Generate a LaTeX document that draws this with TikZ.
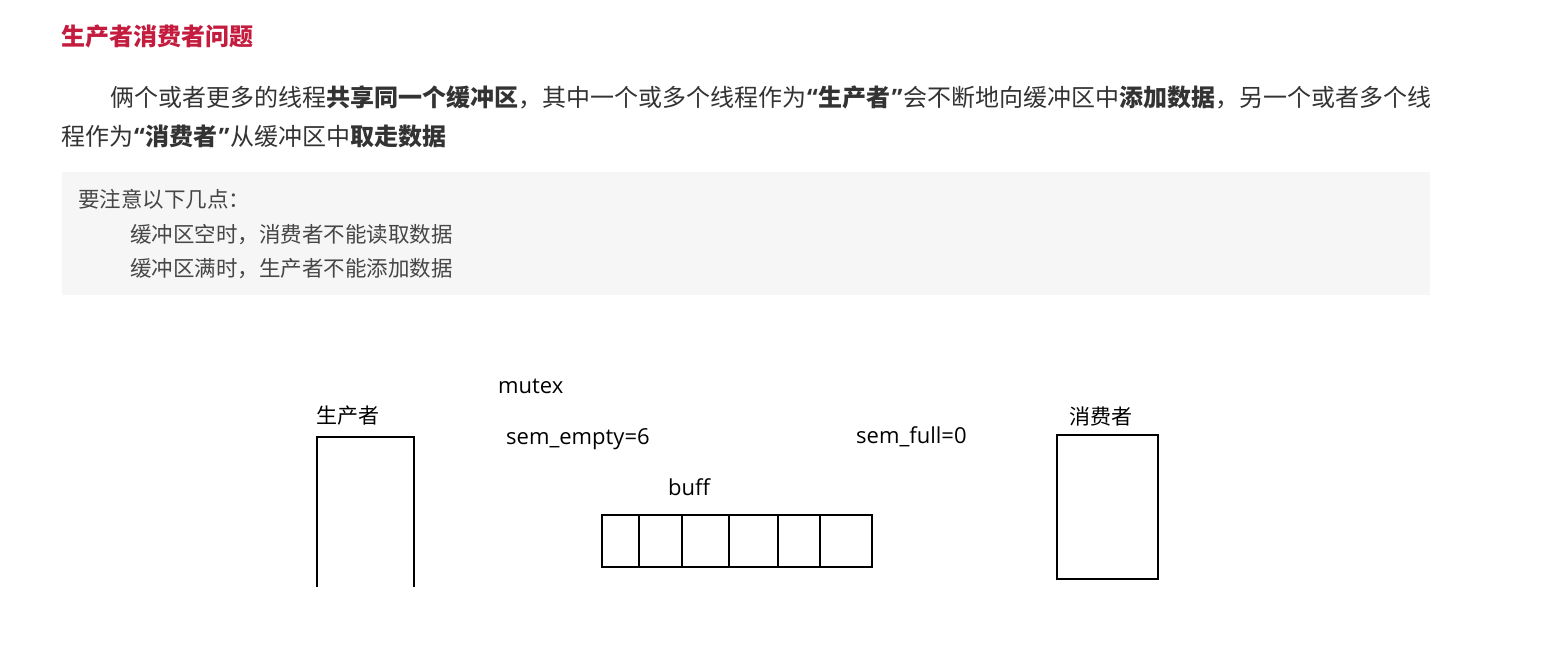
\documentclass[tikz,border=0pt]{standalone}
\usepackage{fontspec}
\setmainfont{Noto Sans CJK SC}
\newfontfamily\latinfont{Open Sans}
\newcommand{\myopenq}{{\latinfont\kern1pt“\kern1pt}}
\newcommand{\mycloseq}{{\latinfont\kern1pt”\kern1pt}}
\definecolor{titlered}{RGB}{196,28,62}
\definecolor{bodytext}{RGB}{51,51,51}
\definecolor{notebg}{RGB}{246,246,246}
\definecolor{notetext}{RGB}{70,70,70}
\begin{document}
\begin{tikzpicture}[x=1pt,y=-1pt,
  txt/.style={inner sep=0pt,anchor=base west},
  para/.style={txt,font=\fontsize{24}{28}\selectfont,text=bodytext},
  notetxt/.style={txt,font=\fontsize{21.5}{24}\selectfont,text=notetext},
  lbl/.style={txt,font=\fontsize{21}{24}\selectfont,text=black},
  code/.style={txt,font=\latinfont\fontsize{22}{26}\selectfont,text=black},
  thick line/.style={line width=2.6pt,black},
  cellbox/.style={draw=black,line width=2.6pt,minimum height=52pt,inner sep=0pt,outer sep=0pt,anchor=north west}]
\useasboundingbox (0,0) rectangle (1547,659);
\fill[white] (0,0) rectangle (1547,659);
% title
\node[txt,font=\fontsize{24}{28}\bfseries\selectfont,text=titlered] (title) at (61,45) {生产者消费者问题};
% paragraph
\node[para] (p1) at (110,106) {俩个或者更多的线程\textbf{共享同一个缓冲区}，其中一个或多个线程作为\textbf{\myopenq 生产者\mycloseq}会不断地向缓冲区中\textbf{添加数据}，另一个或者多个线};
\node[para] (p2) at (61,145) {程作为\textbf{\myopenq 消费者\mycloseq}从缓冲区中\textbf{取走数据}};
% note box
\fill[notebg] (62,172) rectangle (1430,295);
\node[notetxt] (n1) at (78,207) {要注意以下几点：};
\node[notetxt] (n2) at (130,242) {缓冲区空时，消费者不能读取数据};
\node[notetxt] (n3) at (130,276) {缓冲区满时，生产者不能添加数据};
% producer
\coordinate (pbl) at (317,587);
\coordinate (ptl) at (317,437);
\coordinate (ptr) at (414,437);
\coordinate (pbr) at (414,587);
\draw[thick line,line join=miter] (pbl) -- (ptl) -- (ptr) -- (pbr);
\node[lbl] (plabel) at (316,423) {生产者};
% labels
\node[code] (mutex) at (498,393) {mutex};
\node[code] (semempty) at (506,444) {sem\_empty=6};
\node[code] (semfull) at (856,443) {sem\_full=0};
\node[code] (buff) at (668,495) {buff};
% buffer cells
\node[cellbox,minimum width=37pt] (c1) at (602,515) {};
\node[cellbox,minimum width=43pt] (c2) at (c1.north east) {};
\node[cellbox,minimum width=47pt] (c3) at (c2.north east) {};
\node[cellbox,minimum width=49pt] (c4) at (c3.north east) {};
\node[cellbox,minimum width=42pt] (c5) at (c4.north east) {};
\node[cellbox,minimum width=52pt] (c6) at (c5.north east) {};
% consumer
\node[draw=black,line width=2.6pt,minimum width=101pt,minimum height=144pt,inner sep=0pt,outer sep=0pt,anchor=north west] (cons) at (1057,435) {};
\node[lbl] (clabel) at (1069,424) {消费者};
\end{tikzpicture}
\end{document}
